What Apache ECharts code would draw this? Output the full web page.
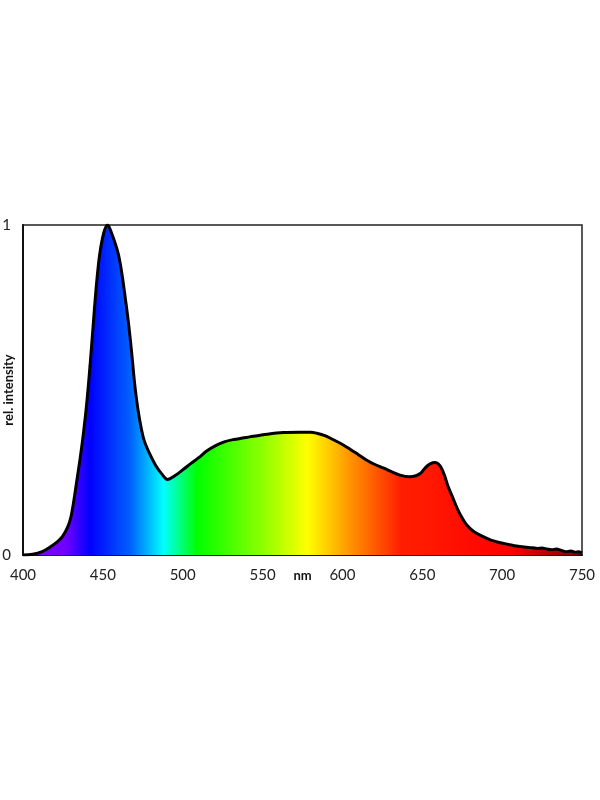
<!DOCTYPE html>
<html>
<head>
<meta charset="utf-8">
<script src="https://cdn.jsdelivr.net/npm/echarts@6/dist/echarts.min.js"></script>
<style>
html,body{margin:0;padding:0;background:#fff;}
#c{width:600px;height:800px;}
</style>
</head>
<body>
<div id="c"></div>
<script>
// wavelength (nm)
const wavelengths = [400,406,412,417,422,425,428,430,432,434,436,438,440,442,444,446,448,450.5,453,455.5,458,460,462,464,466,468,470,472,474,476,479,483,487,490.5,495,500,505,510,515,520,526,532,542,553,563,573,580,584,589,594,600,605,610,615,620,626,631,636,642,646,649,652,655,658,660,662,664,666,669,672,675,678,682,688,693,699,704,709,714,719,722,725,728,731,734,737,740,743,746,748,750];
// relative intensity
const intensity = [0,0.002,0.01,0.024,0.042,0.058,0.085,0.115,0.17,0.235,0.3,0.375,0.465,0.575,0.7,0.82,0.91,0.975,1.0,0.975,0.94,0.905,0.85,0.78,0.705,0.615,0.515,0.44,0.385,0.345,0.31,0.272,0.245,0.229,0.24,0.258,0.277,0.295,0.315,0.33,0.343,0.35,0.358,0.366,0.371,0.372,0.372,0.369,0.362,0.35,0.335,0.32,0.304,0.288,0.275,0.263,0.252,0.242,0.237,0.24,0.248,0.265,0.276,0.28,0.276,0.263,0.24,0.21,0.175,0.14,0.112,0.09,0.072,0.056,0.045,0.037,0.032,0.027,0.024,0.022,0.02,0.021,0.018,0.016,0.018,0.014,0.01,0.012,0.008,0.01,0.006];
// tick labels
const xTicks = [400,450,500,550,600,650,700,750];
const yTicks = [0,1];
// spectral colour stops (nm, colour)
const spectrumNm = [400,427,442,467,488,509,523,555,578,606,636,705,750];
const spectrumColors = ['#8000ff','#7000ff','#0000ff','#0060ff','#00ffff','#00ff00','#30ff00','#a0ff00','#ffff00','#ff9000','#ff2000','#ff0000','#800000'];

const chart = echarts.init(document.getElementById('c'));
const xMin = 400, xMax = 750;
const stops = spectrumNm.map((n,i)=>({offset:(n-xMin)/(xMax-xMin), color:spectrumColors[i]}));
const fontFam = 'Lato, "Noto Sans", sans-serif';

chart.setOption({
  animation:false,
  grid:{left:23,right:18,top:225,bottom:245,outerBoundsMode:'none',containLabel:false,
    show:true,borderColor:'#222',borderWidth:1.5,backgroundColor:'transparent'},
  xAxis:{
    type:'value',min:xMin,max:xMax,interval:50,
    name:'nm',nameLocation:'middle',nameGap:14,nameMoveOverlap:false,
    nameTextStyle:{fontFamily:fontFam,fontWeight:'bold',fontSize:13,color:'#111',verticalAlign:'top'},
    axisLine:{show:true,lineStyle:{color:'#111',width:2}},
    axisTick:{show:false},splitLine:{show:false},
    axisLabel:{fontFamily:fontFam,fontSize:15,color:'#222',margin:13,
      formatter:v=>xTicks.includes(v)?String(v):''}
  },
  yAxis:{
    type:'value',min:0,max:1,interval:1,
    name:'rel. intensity',nameLocation:'middle',nameGap:8,nameMoveOverlap:false,
    nameTextStyle:{fontFamily:fontFam,fontWeight:'bold',fontSize:13,color:'#111'},
    axisLine:{show:true,lineStyle:{color:'#111',width:2}},
    axisTick:{show:false},splitLine:{show:false},
    axisLabel:{fontFamily:fontFam,fontSize:15,color:'#222',margin:12,
      formatter:v=>yTicks.includes(v)?String(v):''}
  },
  series:[{
    type:'line',
    data:wavelengths.map((w,i)=>[w,intensity[i]]),
    smooth:0.35,
    symbol:'none',
    lineStyle:{color:'#000',width:3},
    areaStyle:{opacity:1,color:new echarts.graphic.LinearGradient(0,0,1,0,stops)}
  }]
});
</script>
</body>
</html>
